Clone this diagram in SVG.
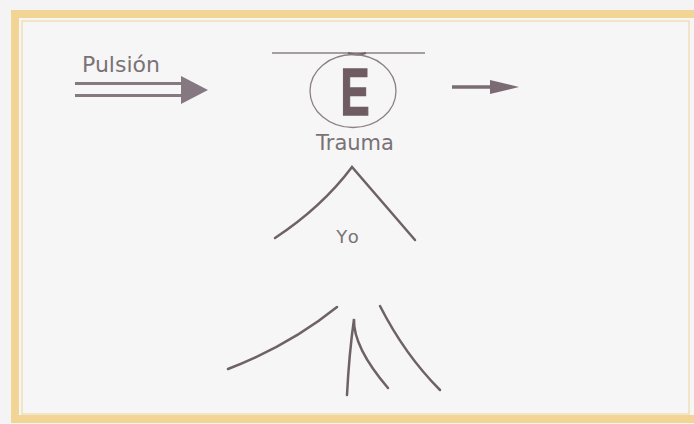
<svg xmlns="http://www.w3.org/2000/svg" width="694" height="424" viewBox="0 0 694 424">
  <defs>
    <style>
      .txt { font-family: "DejaVu Sans", "Liberation Sans", sans-serif; fill: #7a7276; }
      .stroke { fill: none; stroke: #6e6268; stroke-linecap: round; }
      .thin { fill: none; stroke: #8a8086; stroke-width: 1.3; }
    </style>
  </defs>
  <rect x="0" y="0" width="694" height="424" fill="#f4f4f4"/>
  <g id="frame">
    <rect x="15" y="14" width="684" height="405" fill="#f6f6f6" stroke="#f2d595" stroke-width="8"/>
    <rect x="22" y="21" width="667" height="393" fill="none" stroke="#efd9a8" stroke-width="1.2"/>
  </g>
  <g id="pulsion">
    <text class="txt" x="82" y="72" font-size="22">Pulsión</text>
  </g>
  <g id="ego-E">
    <line class="thin" x1="272" y1="53" x2="425" y2="53"/>
    <path d="M348 53 Q357 56 366 53" fill="none" stroke="#6e6268" stroke-width="2"/>
    <ellipse class="thin" cx="353" cy="91" rx="43" ry="36.5"/>
    <text x="355" y="115" font-family="Liberation Sans, Arial, sans-serif" font-weight="bold" font-size="66" fill="#6e5c62" stroke="#6e5c62" stroke-width="1.5" text-anchor="middle" transform="translate(355 0) scale(0.66 1) translate(-355 0)">E</text>
  </g>
  <g id="trauma">
    <text class="txt" x="355" y="150" font-size="21" text-anchor="middle">Trauma</text>
  </g>
  <g id="yo">
    <path class="stroke" stroke-width="2.5" d="M275 238 Q322 207 352 167 Q385 205 415 240"/>
    <text class="txt" x="349" y="243" font-size="18" text-anchor="middle" letter-spacing="3" fill="#85808a">Yo</text>
  </g>
  <g id="bottom-lines">
    <path class="stroke" stroke-width="2.5" d="M228 369 Q290 345 337 307"/>
    <path class="stroke" stroke-width="2.5" d="M347 395 Q349 355 354 319 Q353 347 388 388"/>
    <path class="stroke" stroke-width="2.5" d="M380 306 Q405 355 440 390"/>
  </g>
  <g id="connectors">
    <line x1="75" y1="83.5" x2="184" y2="83.5" stroke="#857880" stroke-width="3"/>
    <line x1="75" y1="95.5" x2="184" y2="95.5" stroke="#857880" stroke-width="3"/>
    <polygon points="181,76 208,90 181,104" fill="#857880"/>
    <line x1="452" y1="87" x2="494" y2="87" stroke="#7a6c72" stroke-width="3.5"/>
    <polygon points="490,80 519,87 490,94" fill="#7a6c72"/>
  </g>
</svg>
